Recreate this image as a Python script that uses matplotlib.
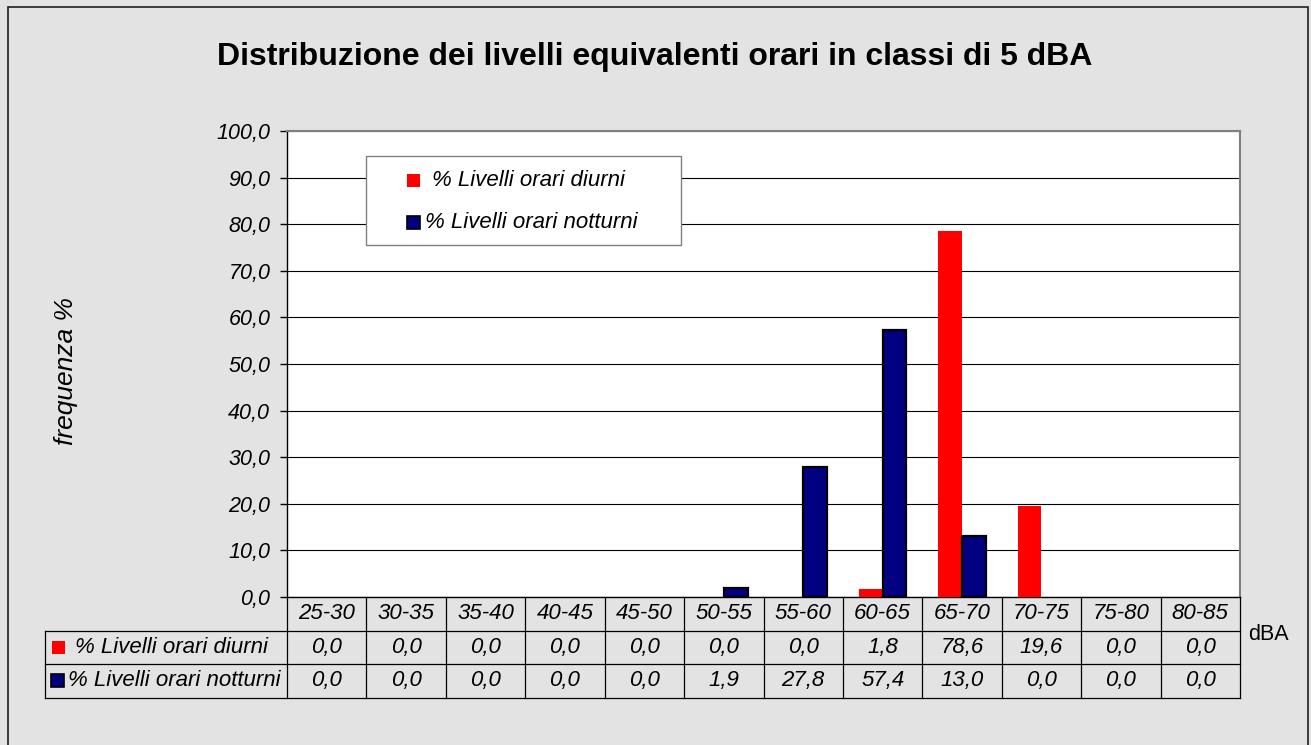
import numpy as np
import matplotlib
matplotlib.use("Agg")
import matplotlib.pyplot as plt
from matplotlib.patches import Rectangle
from matplotlib import transforms

# dati
categories = ["25-30", "30-35", "35-40", "40-45", "45-50", "50-55",
              "55-60", "60-65", "65-70", "70-75", "75-80", "80-85"]
diurni = [0.0, 0.0, 0.0, 0.0, 0.0, 0.0, 0.0, 1.8, 78.6, 19.6, 0.0, 0.0]
notturni = [0.0, 0.0, 0.0, 0.0, 0.0, 1.9, 27.8, 57.4, 13.0, 0.0, 0.0, 0.0]
label_diurni = "% Livelli orari diurni"
label_notturni = "% Livelli orari notturni"
yticks = [0, 10, 20, 30, 40, 50, 60, 70, 80, 90, 100]

title = "Distribuzione dei livelli equivalenti orari in classi di 5 dBA"
red = "#ff0000"
navy = "#000080"

plt.rcParams['font.family'] = ['Liberation Sans', 'DejaVu Sans']

W, H = 1311, 745
fig = plt.figure(figsize=(W / 100, H / 100), dpi=100)
fig.patch.set_facecolor('#e3e3e3')
fig.add_artist(Rectangle((8 / W, -5 / H), 1300 / W, 743 / H, transform=fig.transFigure,
                         fill=False, edgecolor='#202020', lw=1.2))

# area del grafico (pixel -> frazioni)
L, R, T, B = 287, 1240, 131, 597
ax = fig.add_axes([L / W, 1 - B / H, (R - L) / W, (B - T) / H])
ax.set_facecolor('white')


def axx(px):
    return (px - L) / (R - L)


def axy(py):
    return (B - py) / (B - T)


x = np.arange(len(categories))
bw = 0.3
ax.bar(x - bw / 2, diurni, bw, color=red, edgecolor='none', zorder=3)
ax.bar(x + bw / 2, notturni, bw, color=navy, edgecolor='black',
       linewidth=[1.6 if v > 0 else 0 for v in notturni], zorder=3)

ax.set_xlim(-0.5, len(categories) - 0.5)
ax.set_ylim(0, 100)
ax.set_xticks([])
ax.set_yticks(yticks)
ax.set_yticklabels([f"{v:.1f}".replace('.', ',') for v in yticks],
                   fontstyle='italic', fontsize=15.5)
ax.tick_params(axis='y', direction='out', length=5, width=1, pad=7, color='black')
ax.yaxis.grid(True, color='black', lw=0.8)
ax.set_axisbelow(True)
for s in ['left', 'bottom']:
    ax.spines[s].set_color('black')
    ax.spines[s].set_linewidth(1)
for s in ['top', 'right']:
    ax.spines[s].set_color('#808080')
    ax.spines[s].set_linewidth(1.5)

fs = 16

# legenda
ax.add_patch(Rectangle((axx(366), axy(245)), axx(681) - axx(366), axy(156) - axy(245),
                       transform=ax.transAxes, facecolor='white', edgecolor='#808080',
                       lw=1, zorder=5))
sq = 13
ax.add_patch(Rectangle((axx(407), axy(180 + sq / 2)), sq / (R - L), sq / (B - T),
                       transform=ax.transAxes, facecolor=red, edgecolor='none', zorder=6))
ax.add_patch(Rectangle((axx(407), axy(222 + sq / 2)), sq / (R - L), sq / (B - T),
                       transform=ax.transAxes, facecolor=navy, edgecolor='black', lw=1.2, zorder=6))
ax.text(axx(432), axy(180), label_diurni, transform=ax.transAxes, fontsize=fs,
        fontstyle='italic', va='center', ha='left', zorder=6)
ax.text(axx(425), axy(222), label_notturni, transform=ax.transAxes, fontsize=fs,
        fontstyle='italic', va='center', ha='left', zorder=6)

# tabella dati
trans = transforms.blended_transform_factory(ax.transData, ax.transAxes)
rh = 33.5 / (B - T)
ys = [0, -rh, -2 * rh, -3 * rh]
lw_t = 0.9
for yy in ys[1:]:
    ax.plot([axx(45), 1], [yy, yy], color='black', lw=lw_t, transform=ax.transAxes, clip_on=False)
for xv in np.arange(-0.5, len(categories), 1):
    ax.plot([xv, xv], [ys[0], ys[3]], color='black', lw=lw_t, transform=trans, clip_on=False)
ax.plot([axx(45), axx(45)], [ys[1], ys[3]], color='black', lw=lw_t,
        transform=ax.transAxes, clip_on=False)

fmt = lambda v: f"{v:.1f}".replace('.', ',')
for i, c in enumerate(categories):
    ax.text(i, (ys[0] + ys[1]) / 2, c, transform=trans, ha='center', va='center',
            fontsize=fs, fontstyle='italic')
    ax.text(i, (ys[1] + ys[2]) / 2, fmt(diurni[i]), transform=trans, ha='center', va='center',
            fontsize=fs, fontstyle='italic')
    ax.text(i, (ys[2] + ys[3]) / 2, fmt(notturni[i]), transform=trans, ha='center', va='center',
            fontsize=fs, fontstyle='italic')

y1 = (ys[1] + ys[2]) / 2
y2 = (ys[2] + ys[3]) / 2
ax.add_patch(Rectangle((axx(52), y1 - sq / 2 / (B - T)), sq / (R - L), sq / (B - T),
                       transform=ax.transAxes, facecolor=red, edgecolor='none', clip_on=False))
ax.add_patch(Rectangle((axx(51), y2 - sq / 2 / (B - T)), sq / (R - L), sq / (B - T),
                       transform=ax.transAxes, facecolor=navy, edgecolor='black', lw=1.2,
                       clip_on=False))
ax.text(axx(75), y1, label_diurni, transform=ax.transAxes, fontsize=fs, fontstyle='italic',
        va='center', ha='left')
ax.text(axx(68), y2, label_notturni, transform=ax.transAxes, fontsize=fs, fontstyle='italic',
        va='center', ha='left')

fig.text(1248 / W, 1 - 635 / H, "dBA", fontsize=15.5, va='center', ha='left')
fig.text(655 / W, 1 - 57 / H, title, fontsize=23, fontweight='bold', ha='center', va='center')
fig.text(66 / W, 1 - 371 / H, "frequenza %", rotation=90, fontsize=19, fontstyle='italic',
         ha='center', va='center')

fig.savefig("out.png", dpi=100, facecolor=fig.get_facecolor())
